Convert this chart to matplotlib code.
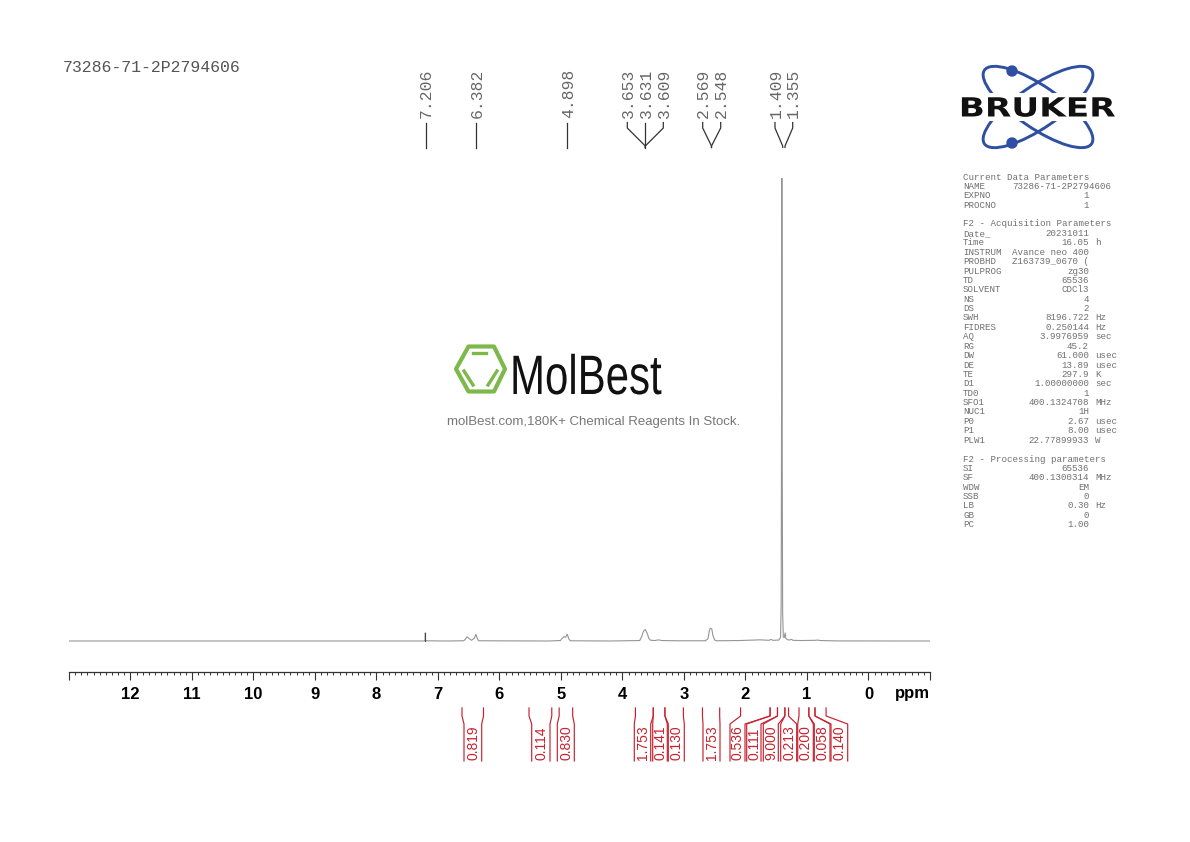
import matplotlib
matplotlib.use('Agg')
from matplotlib import pyplot as plt
from matplotlib import patheffects
from matplotlib.patches import Ellipse, Circle, Polygon, Rectangle
from matplotlib.transforms import Affine2D

sample_name = '73286-71-2P2794606'

# spectrum, intensity in % of the tallest peak
spec_ppm = [13.0, 9.0, 7.24, 7.215, 7.209, 7.206, 7.203, 7.197, 6.9, 6.58, 6.556, 6.526, 6.50, 6.455, 6.41,
            6.382, 6.36, 6.34, 5.2, 5.01, 4.98, 4.95, 4.925, 4.898, 4.875, 4.85, 4.2, 3.72, 3.69, 3.66, 3.631,
            3.60, 3.57, 3.54, 3.47, 3.42, 3.36, 3.1, 2.65, 2.61, 2.585, 2.569, 2.548, 2.53, 2.50, 2.47, 2.1,
            1.76, 1.62, 1.58, 1.56, 1.46, 1.43, 1.42, 1.412, 1.409, 1.404, 1.396, 1.385, 1.37, 1.355, 1.345,
            1.32, 1.29, 1.25, 1.23, 1.1, 0.86, 0.83, 0.78, 0.5, -0.5, -1.0]
spec_int = [0.0, 0.0, 0.0, 0.05, 0.1, 1.8, 0.1, 0.05, 0.0, 0.05, 0.4, 0.9, 0.6, 0.15, 0.6,
            1.45, 0.5, 0.05, 0.0, 0.1, 0.6, 0.95, 0.8, 1.5, 0.5, 0.05, 0.0, 0.1, 0.9, 2.1, 2.5,
            1.7, 0.5, 0.15, 0.1, 0.25, 0.1, 0.05, 0.05, 0.5, 2.4, 2.75, 2.6, 1.2, 0.2, 0.05, 0.1,
            0.25, 0.15, 0.35, 0.15, 0.2, 0.8, 8.0, 60.0, 100.0, 45.0, 6.0, 0.9, 0.7, 1.8, 0.6,
            0.3, 0.2, 0.35, 0.15, 0.1, 0.15, 0.2, 0.1, 0.02, 0.0, 0.0]

peak_ppm = [7.206, 6.382, 4.898, 3.653, 3.631, 3.609, 2.569, 2.548, 1.409, 1.355]
peak_label_x = [425.7, 476, 567.5, 627.3, 645.3, 663.3, 702.7, 720.7, 775, 792.7]
peak_foot_x = [425.7, 476, 567.5, 645.3, 645.3, 645.3, 711.5, 711.5, 782.7, 785]

integral_left = [6.61, 5.52, 5.03, 3.79, 3.50, 3.31, 2.70, 2.08, 1.60, 1.48, 1.36, 1.13, 0.97, 0.87]
integral_right = [6.26, 5.15, 4.81, 3.50, 3.31, 3.01, 2.42, 1.60, 1.48, 1.36, 1.30, 0.97, 0.87, 0.69]
integral_val = ['0.819', '0.114', '0.830', '1.753', '0.141', '0.130', '1.753', '0.536', '0.111', '9.000',
                '0.213', '0.200', '0.058', '0.140']
box_left = [464, 531.7, 557.3, 634.3, 652.7, 668.3, 703, 730, 746.7, 763.3, 780.7, 797.7, 814.3, 831]
box_right = [481.7, 550, 574.3, 650.7, 667.3, 684.3, 720, 745, 761, 778.3, 796.7, 813.3, 830, 847.7]

# parameter listing: name, value, unit
params_head = [('NAME', sample_name, ''), ('EXPNO', '1', ''), ('PROCNO', '1', '')]
params_acq = [('Date_', '20231011', ''), ('Time', '16.05', 'h'), ('INSTRUM', 'Avance neo 400', ''),
              ('PROBHD', 'Z163739_0670 (', ''), ('PULPROG', 'zg30', ''), ('TD', '65536', ''),
              ('SOLVENT', 'CDCl3', ''), ('NS', '4', ''), ('DS', '2', ''), ('SWH', '8196.722', 'Hz'),
              ('FIDRES', '0.250144', 'Hz'), ('AQ', '3.9976959', 'sec'), ('RG', '45.2', ''),
              ('DW', '61.000', 'usec'), ('DE', '13.89', 'usec'), ('TE', '297.9', 'K'),
              ('D1', '1.00000000', 'sec'), ('TD0', '1', ''), ('SFO1', '400.1324708', 'MHz'),
              ('NUC1', '1H', ''), ('P0', '2.67', 'usec'), ('P1', '8.00', 'usec'), ('PLW1', '22.77899933', 'W')]
params_proc = [('SI', '65536', ''), ('SF', '400.1300314', 'MHz'), ('WDW', 'EM', ''), ('SSB', '0', ''),
               ('LB', '0.30', 'Hz'), ('GB', '0', ''), ('PC', '1.00', '')]

W, H = 1190, 842
MONO = 'Liberation Mono'
SANS = 'Liberation Sans'
RED = '#c9202e'
BLUE = '#2f4fa3'
GREEN = '#7db84a'
LIST_COLOR = '#707070'


def px2ppm(x):
    return 13 - (x - 69) * 14 / 861


class Stretch(patheffects.AbstractPathEffect):
    # squeeze or widen a text around a fixed x pixel, logos have no matching font
    def __init__(self, sx, cx):
        super().__init__()
        self.sx = sx
        self.cx = cx

    def draw_path(self, renderer, gc, tpath, affine, rgbFace=None):
        tr = affine + Affine2D().translate(-self.cx, 0).scale(self.sx, 1).translate(self.cx, 0)
        renderer.draw_path(gc, tpath, tr, rgbFace)


fig = plt.figure(figsize=(W / 100, H / 100), dpi=100, facecolor='white')

# page layer in pixels, for logos and listing
page = fig.add_axes([0, 0, 1, 1])
page.set_xlim(0, W)
page.set_ylim(H, 0)
page.axis('off')

# spectrum with ppm scale
ax = fig.add_axes([69 / W, 1 - 672 / H, 861 / W, 502 / H])
ax.plot(spec_ppm, spec_int, color='#959595', lw=0.8, solid_joinstyle='miter')
ax.plot([7.206, 7.206], [0, 1.8], color='#444444', lw=0.8)
ax.set_xlim(13, -1)
ax.set_ylim(-31 / 4.63, 471 / 4.63)
ax.patch.set_alpha(0)
for side in ['left', 'right', 'top']:
    ax.spines[side].set_visible(False)
ax.spines['bottom'].set_color('#333333')
ax.spines['bottom'].set_linewidth(0.9)
ax.set_yticks([])
ax.set_xticks(range(-1, 14))
ax.set_xticklabels(['' if t in (-1, 13) else str(t) for t in range(-1, 14)],
                   fontfamily=SANS, fontweight='bold', fontsize=12)
ax.set_xticks([i / 10 for i in range(-10, 131) if i % 10], minor=True)
ax.tick_params(axis='x', which='major', length=5.8, width=0.8, color='#333333', pad=5)
ax.tick_params(axis='x', which='minor', length=2.5, width=0.7, color='#333333')
page.text(912, 693.5, 'ppm', family=SANS, weight='bold', fontsize=12, ha='center', va='center')

# peak picks
top = fig.add_axes([69 / W, 1 - 150 / H, 861 / W, 90 / H])
top.set_xlim(13, -1)
top.set_ylim(150, 60)
top.axis('off')
for p, lx, fx in zip(peak_ppm, peak_label_x, peak_foot_x):
    x0, x1 = px2ppm(lx), px2ppm(fx)
    if lx == fx:
        top.plot([x0, x1], [122.5, 147.5], color='#333333', lw=0.9)
    else:
        top.plot([x0, x0, x1, x1], [122.5, 128, 146, 147.5], color='#333333', lw=0.9)
    top.text(px2ppm(lx + 1), 118.5, '%.3f' % p, family=MONO, fontsize=11.8, color='#666666',
             rotation=90, ha='center', va='bottom')

# integrals
integ = fig.add_axes([69 / W, 1 - 770 / H, 861 / W, 70 / H])
integ.set_xlim(13, -1)
integ.set_ylim(770, 700)
integ.axis('off')
for l, r, val, bl, br in zip(integral_left, integral_right, integral_val, box_left, box_right):
    ys = [708, 716, 724, 761]
    integ.plot([l, l, px2ppm(bl), px2ppm(bl)], ys, color=RED, lw=0.85)
    integ.plot([r, r, px2ppm(br), px2ppm(br)], ys, color=RED, lw=0.85)
    integ.text(px2ppm((bl + br) / 2 + 0.5), 760.5, val, family=SANS, fontsize=10, color=RED,
               rotation=90, ha='center', va='bottom')

page.text(63, 68, sample_name, family=MONO, fontsize=11.9, color='#555555', va='center')

# bruker logo
page.add_patch(Ellipse((1038, 107), 130, 42, angle=34.5, fill=False, ec=BLUE, lw=2.1))
page.add_patch(Ellipse((1038, 107), 130, 42, angle=-34.5, fill=False, ec=BLUE, lw=2.1))
page.add_patch(Circle((1012, 71), 5, color=BLUE))
page.add_patch(Circle((1012, 143), 5, color=BLUE))
page.add_patch(Rectangle((955, 93), 165, 28, fc='white', ec='none', zorder=3))
page.text(1037, 116.5, 'BRUKER', family='DejaVu Sans', weight='bold', fontsize=19, color='#111111',
          ha='center', va='baseline', zorder=4, path_effects=[Stretch(1.3, 1037)])

# listing
LINE = 9.4
LIST_Y = 177


def list_rows(rows, start):
    for i, (name, val, unit) in enumerate(rows):
        y = LIST_Y + (start + i) * LINE
        page.text(963, y, name, family=MONO, fontsize=6.6, color=LIST_COLOR, va='center')
        if val == sample_name:
            page.text(1012, y, val, family=MONO, fontsize=6.6, color=LIST_COLOR, va='center')
        else:
            page.text(1089, y, val, family=MONO, fontsize=6.6, color=LIST_COLOR, va='center', ha='right')
        if unit:
            page.text(1095, y, unit, family=MONO, fontsize=6.6, color=LIST_COLOR, va='center')


page.text(963, LIST_Y, 'Current Data Parameters', family=MONO, fontsize=6.6, color=LIST_COLOR, va='center')
list_rows(params_head, 1)
page.text(963, LIST_Y + 5 * LINE, 'F2 - Acquisition Parameters', family=MONO, fontsize=6.6, color=LIST_COLOR, va='center')
list_rows(params_acq, 6)
page.text(963, LIST_Y + 30 * LINE, 'F2 - Processing parameters', family=MONO, fontsize=6.6, color=LIST_COLOR, va='center')
list_rows(params_proc, 31)

# molbest watermark
page.add_patch(Polygon([(456, 369), (468.5, 346.5), (494, 346.5), (505, 369), (494, 391.5), (468.5, 391.5)],
                       closed=True, fill=False, ec=GREEN, lw=3, joinstyle='round'))
page.plot([473, 486], [353, 353], color=GREEN, lw=2.4)
page.plot([464, 473], [371, 385], color=GREEN, lw=2.4)
page.plot([488, 497], [385, 371], color=GREEN, lw=2.4)
page.text(510, 394, 'MolBest', family=SANS, fontsize=40, color='#111111',
          ha='left', va='baseline', path_effects=[Stretch(0.756, 510)])
page.text(594, 421.5, 'molBest.com,180K+ Chemical Reagents In Stock.', family=SANS, fontsize=9.5,
          color='#777777', ha='center', va='center')

fig.savefig('out.png', dpi=100)
